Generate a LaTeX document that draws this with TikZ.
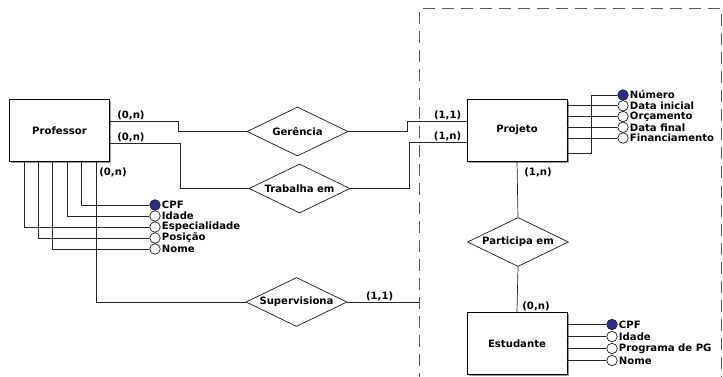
\documentclass[tikz,border=0pt]{standalone}
\usepackage{fontspec}
\setmainfont{DejaVu Sans}
\usetikzlibrary{shapes.geometric,positioning,shadows}
\definecolor{keyblue}{RGB}{45,45,140}

\begin{document}
\begin{tikzpicture}[x=1pt,y=-1pt,line width=0.7pt,
  font=\bfseries\fontsize{10.1}{11}\selectfont,
  entity/.style={rectangle,draw=black,fill=white,line width=0.9pt,minimum width=100pt,minimum height=62pt,
    drop shadow={shadow xshift=1.6pt,shadow yshift=-1.6pt,fill=black!40,opacity=1}},
  rel/.style={diamond,aspect=2.1,draw=black!90,fill=white,inner sep=0pt,minimum width=101pt,minimum height=49pt},
  attr/.style={circle,draw=black!90,fill=white,inner sep=0pt,minimum size=10.5pt},
  keyattr/.style={attr,fill=keyblue},
  attrlabel/.style={inner sep=1pt},
  card/.style={inner sep=1pt},
  link/.style={draw=black!85},
  frame/.style={draw=black!65,line width=1pt,dash pattern=on 12pt off 7pt}]
   \useasboundingbox (0,0) rectangle (723,377);
   % dashed frame round the project part
   \draw[frame] (419,385) -- (419,9) -- (721.5,9) -- (721.5,385);

   \node[entity] (prof)  at (59.5,130.5) {Professor};
   \node[entity] (proj)  at (517,130)    {Projeto};
   \node[entity] (estud) at (517,343.5)  {Estudante};
   \node[rel]    (ger)   at (297.5,131.5) {Gerência};
   \node[rel]    (trab)  at (299.5,188.5) {Trabalha em};
   \node[rel]    (sup)   at (296.5,302)   {Supervisiona};
   \node[rel]    (part)  at (518,242)     {Participa em};
   \coordinate (supend) at (419,302);

   % relationships
   \draw[link] ([yshift=9.5pt]prof.east) node[card,above right,xshift=6pt] {(0,n)}
       -| ([xshift=-68pt]ger.west) -- (ger.west);
   \draw[link] (ger.east) -| ([xshift=-59pt,yshift=9pt]proj.west) -- ([yshift=9pt]proj.west)
       node[card,above left,xshift=-4pt] {(1,1)};
   \draw[link] ([yshift=-12.5pt]prof.east) node[card,above right,xshift=6pt] {(0,n)}
       -| ([xshift=-68pt]trab.west) -- (trab.west);
   \draw[link] (trab.east) -| ([xshift=-57pt,yshift=-12pt]proj.west) -- ([yshift=-12pt]proj.west)
       node[card,above left,xshift=-4pt] {(1,n)};
   \draw[link] ([xshift=36.5pt]prof.south) node[card,below right,xshift=2pt,yshift=-5pt] {(0,n)}
       |- (sup.west);
   \draw[link] (sup.east) -- node[card,above,pos=0.45] {(1,1)} (supend);
   \draw[link] (proj.south) node[card,below right,xshift=6pt,yshift=-5pt] {(1,n)} -- (part.north);
   \draw[link] (part.south) -- (estud.north) node[card,above right,xshift=4pt] {(0,n)};

   % professor attributes
   \node[keyattr] (pcpf)   at (155,205) {};
   \node[attr]    (pidade) at (155,216) {};
   \node[attr]    (pesp)   at (155,227) {};
   \node[attr]    (ppos)   at (155,238) {};
   \node[attr]    (pnome)  at (155,249) {};
   \node[attrlabel,right=0pt of pcpf]   (lpcpf)   {CPF};
   \node[attrlabel,right=0pt of pidade] (lpidade) {Idade};
   \node[attrlabel,right=0pt of pesp]   (lpesp)   {Especialidade};
   \node[attrlabel,right=0pt of ppos]   (lppos)   {Posição};
   \node[attrlabel,right=0pt of pnome]  (lpnome)  {Nome};
   \draw[link] ([xshift=21.5pt]prof.south)  |- (pcpf);
   \draw[link] ([xshift=7.5pt]prof.south)   |- (pidade);
   \draw[link] ([xshift=-35.5pt]prof.south) |- (pesp);
   \draw[link] ([xshift=-21.5pt]prof.south) |- (ppos);
   \draw[link] ([xshift=-7.5pt]prof.south)  |- (pnome);

   % projeto attributes
   \node[keyattr] (jnum) at (623,95)     {};
   \node[attr]    (jdi)  at (623,105.75) {};
   \node[attr]    (jorc) at (623,116.5)  {};
   \node[attr]    (jdf)  at (623,127.25) {};
   \node[attr]    (jfin) at (623,138)    {};
   \node[attrlabel,right=0pt of jnum] (ljnum) {Número};
   \node[attrlabel,right=0pt of jdi]  (ljdi)  {Data inicial};
   \node[attrlabel,right=0pt of jorc] (ljorc) {Orçamento};
   \node[attrlabel,right=0pt of jdf]  (ljdf)  {Data final};
   \node[attrlabel,right=0pt of jfin] (ljfin) {Financiamento};
   \draw[link] ([yshift=-23pt]proj.east) -| ([xshift=-32pt]jnum.center) -- (jnum);
   \draw[link] (jdi -| proj.east)  -- (jdi);
   \draw[link] (jorc -| proj.east) -- (jorc);
   \draw[link] (jdf -| proj.east)  -- (jdf);
   \draw[link] (jfin -| proj.east) -- (jfin);

   % estudante attributes
   \node[keyattr] (ecpf)   at (612,324.5) {};
   \node[attr]    (eidade) at (612,336.5) {};
   \node[attr]    (eprog)  at (612,348.5) {};
   \node[attr]    (enome)  at (612,360.5) {};
   \node[attrlabel,right=0pt of ecpf]   (lecpf)   {CPF};
   \node[attrlabel,right=0pt of eidade] (leidade) {Idade};
   \node[attrlabel,right=0pt of eprog]  (leprog)  {Programa de PG};
   \node[attrlabel,right=0pt of enome]  (lenome)  {Nome};
   \draw[link] (ecpf -| estud.east)   -- (ecpf);
   \draw[link] (eidade -| estud.east) -- (eidade);
   \draw[link] (eprog -| estud.east)  -- (eprog);
   \draw[link] (enome -| estud.east)  -- (enome);
\end{tikzpicture}
\end{document}
